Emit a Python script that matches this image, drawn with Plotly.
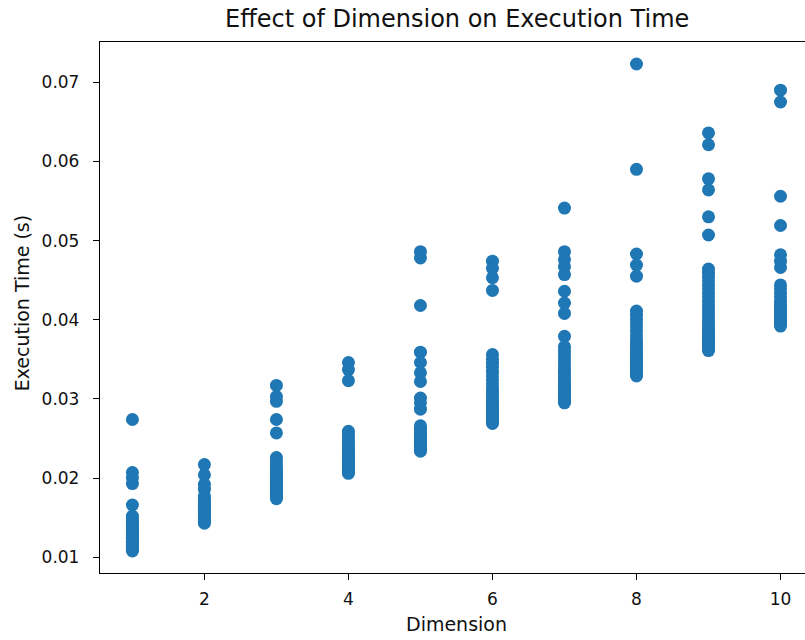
import plotly.graph_objects as go

# ---- data ----
dim1 = [0.0274, 0.0207, 0.0200, 0.0193, 0.0166, 0.0152, 0.0149, 0.0146, 0.0143, 0.0140,
        0.0137, 0.0135, 0.0132, 0.0130, 0.0128, 0.0126, 0.0124, 0.0122, 0.0120, 0.0118,
        0.0116, 0.0114, 0.0112, 0.0110, 0.0108, 0.0113, 0.0119, 0.0125, 0.0131, 0.0141]
dim2 = [0.0217, 0.0204, 0.0192, 0.0186, 0.0177, 0.0173, 0.0170, 0.0167, 0.0164, 0.0161,
        0.0159, 0.0157, 0.0155, 0.0153, 0.0151, 0.0149, 0.0147, 0.0145, 0.0143, 0.0158,
        0.0162, 0.0152, 0.0146, 0.0168]
dim3 = [0.0317, 0.0303, 0.0297, 0.0274, 0.0257, 0.0226, 0.0222, 0.0218, 0.0214, 0.0210,
        0.0206, 0.0203, 0.0200, 0.0197, 0.0194, 0.0191, 0.0188, 0.0186, 0.0184, 0.0182,
        0.0180, 0.0178, 0.0176, 0.0174, 0.0189, 0.0195, 0.0201, 0.0208]
dim4 = [0.0346, 0.0337, 0.0323, 0.0259, 0.0255, 0.0251, 0.0247, 0.0243, 0.0239, 0.0235,
        0.0232, 0.0229, 0.0226, 0.0223, 0.0220, 0.0218, 0.0216, 0.0214, 0.0212, 0.0210,
        0.0208, 0.0206, 0.0221, 0.0225, 0.0231]
dim5 = [0.0486, 0.0478, 0.0418, 0.0359, 0.0346, 0.0333, 0.0322, 0.0301, 0.0295, 0.0287,
        0.0266, 0.0263, 0.0260, 0.0257, 0.0254, 0.0251, 0.0248, 0.0246, 0.0244, 0.0242,
        0.0240, 0.0238, 0.0236, 0.0234, 0.0249, 0.0253, 0.0245]
dim6 = [0.0474, 0.0465, 0.0453, 0.0437, 0.0356, 0.0350, 0.0345, 0.0340, 0.0334, 0.0329,
        0.0324, 0.0319, 0.0314, 0.0310, 0.0306, 0.0302, 0.0298, 0.0295, 0.0292, 0.0289,
        0.0286, 0.0283, 0.0281, 0.0279, 0.0277, 0.0275, 0.0273, 0.0271, 0.0269, 0.0285,
        0.0290, 0.0280, 0.0276]
dim7 = [0.0541, 0.0486, 0.0476, 0.0467, 0.0457, 0.0436, 0.0421, 0.0408, 0.0379, 0.0366,
        0.0361, 0.0356, 0.0351, 0.0346, 0.0341, 0.0336, 0.0332, 0.0328, 0.0324, 0.0320,
        0.0317, 0.0314, 0.0311, 0.0308, 0.0305, 0.0303, 0.0301, 0.0299, 0.0297, 0.0295,
        0.0312, 0.0306, 0.0302]
dim8 = [0.0723, 0.0590, 0.0483, 0.0469, 0.0455, 0.0411, 0.0406, 0.0401, 0.0396, 0.0391,
        0.0386, 0.0381, 0.0376, 0.0372, 0.0368, 0.0364, 0.0360, 0.0356, 0.0352, 0.0349,
        0.0346, 0.0343, 0.0340, 0.0337, 0.0334, 0.0331, 0.0329, 0.0345, 0.0350, 0.0358]
dim9 = [0.0636, 0.0621, 0.0578, 0.0564, 0.0530, 0.0507, 0.0464, 0.0459, 0.0454, 0.0449,
        0.0444, 0.0439, 0.0434, 0.0429, 0.0424, 0.0419, 0.0414, 0.0409, 0.0404, 0.0400,
        0.0396, 0.0392, 0.0388, 0.0384, 0.0380, 0.0377, 0.0374, 0.0371, 0.0368, 0.0365,
        0.0363, 0.0361, 0.0385, 0.0378]
dim10 = [0.0690, 0.0675, 0.0556, 0.0519, 0.0482, 0.0474, 0.0466, 0.0444, 0.0439, 0.0434,
         0.0429, 0.0424, 0.0420, 0.0416, 0.0412, 0.0408, 0.0404, 0.0400, 0.0397, 0.0394,
         0.0392, 0.0418, 0.0410, 0.0402]

series = [dim1, dim2, dim3, dim4, dim5, dim6, dim7, dim8, dim9, dim10]
dimensions = list(range(1, 11))

x_ticks = [2, 4, 6, 8, 10]
y_ticks = [0.01, 0.02, 0.03, 0.04, 0.05, 0.06, 0.07]

xs, ys = [], []
for d, vals in zip(dimensions, series):
    xs.extend([d] * len(vals))
    ys.extend(vals)

FONT = "DejaVu Sans"
TXT = "#111111"

fig = go.Figure(
    go.Scatter(
        x=xs, y=ys, mode="markers",
        marker=dict(color="#1f77b4", size=13, line=dict(width=0)),
        showlegend=False,
    )
)

PLOT_W = 705
xc = (456.5 - 100) / PLOT_W

fig.update_layout(
    width=805, height=640,
    margin=dict(l=100, r=0, t=42, b=67),
    paper_bgcolor="white", plot_bgcolor="white",
    font=dict(family=FONT, size=17, color=TXT),
    annotations=[
        dict(text="Effect of Dimension on Execution Time", xref="paper", yref="paper",
             x=xc, y=1, yshift=23, xanchor="center", yanchor="middle",
             showarrow=False, font=dict(family=FONT, size=24, color=TXT)),
        dict(text="Dimension", xref="paper", yref="paper",
             x=xc, y=0, yshift=-51, xanchor="center", yanchor="middle",
             showarrow=False, font=dict(family=FONT, size=19, color=TXT)),
        dict(text="Execution Time (s)", xref="paper", yref="paper",
             x=0, xshift=-78, y=(573.3 - 303.5) / (573.3 - 42), xanchor="center", yanchor="middle",
             textangle=-90, showarrow=False, font=dict(family=FONT, size=19, color=TXT)),
    ],
)

fig.update_xaxes(
    range=[0.55, 10.34], tickvals=x_ticks, ticktext=[str(v) for v in x_ticks],
    showgrid=False, zeroline=False,
    showline=True, linecolor="black", linewidth=1.3, mirror=True,
    ticks="outside", ticklen=6, tickcolor="black", tickwidth=1.3,
    ticklabelstandoff=4,
    tickfont=dict(family=FONT, size=17, color=TXT),
)
fig.update_yaxes(
    range=[0.00801, 0.07508], tickvals=y_ticks, ticktext=[f"{v:.2f}" for v in y_ticks],
    showgrid=False, zeroline=False,
    showline=True, linecolor="black", linewidth=1.3, mirror=False,
    ticks="outside", ticklen=6, tickcolor="black", tickwidth=1.3,
    ticklabelstandoff=10,
    tickfont=dict(family=FONT, size=17, color=TXT),
)

fig.write_html("out.html", config={"displayModeBar": False},
               post_script="document.body.style.margin='0';")
